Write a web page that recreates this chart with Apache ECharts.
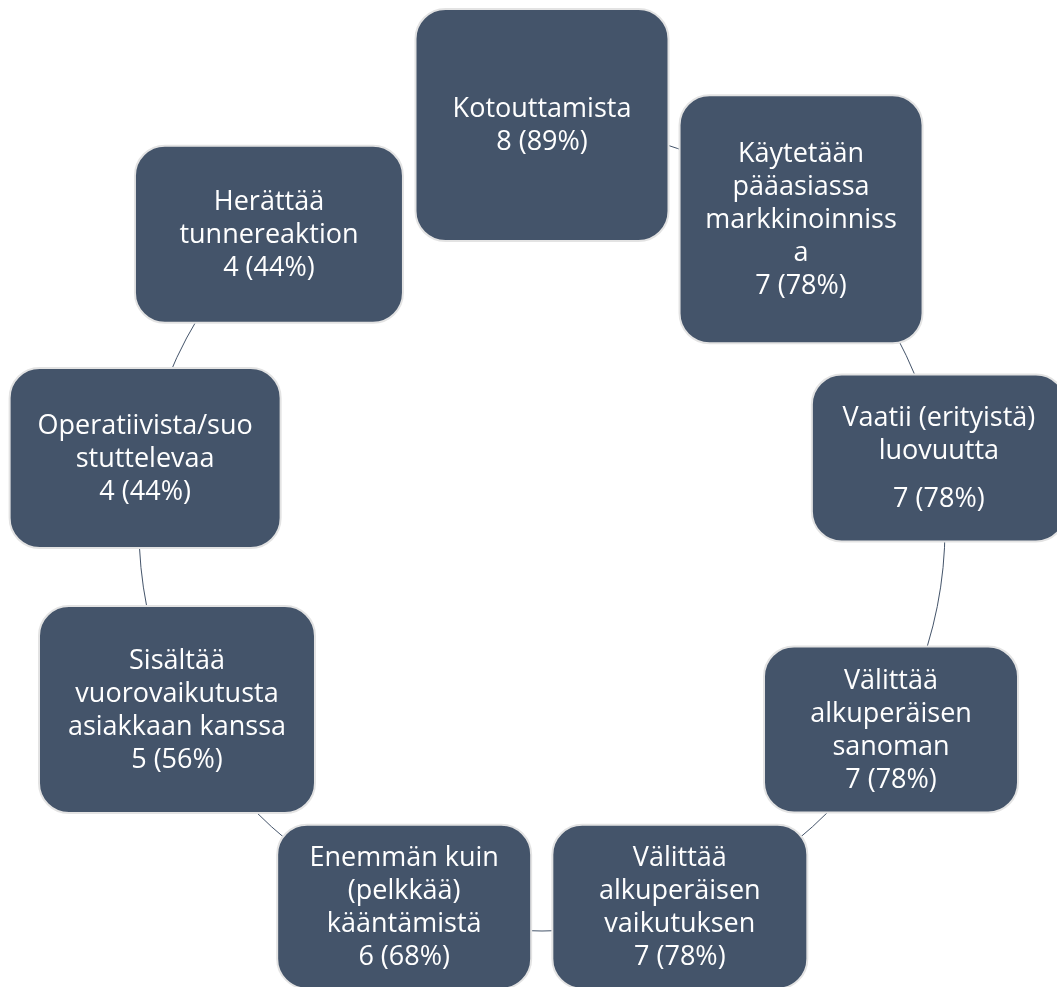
<!DOCTYPE html>
<html>
<head>
<meta charset="utf-8">
<script src="https://cdn.jsdelivr.net/npm/echarts@6/dist/echarts.min.js"></script>
<style>
  html, body { margin: 0; padding: 0; background: #fff; }
  #vis { width: 1057px; height: 987px; }
</style>
</head>
<body>
<div id="vis"></div>
<script>
// cycle items, clockwise from the top
const categories = [
  'Kotouttamista',
  'Käytetään pääasiassa markkinoinnissa',
  'Vaatii (erityistä) luovuutta',
  'Välittää alkuperäisen sanoman',
  'Välittää alkuperäisen vaikutuksen',
  'Enemmän kuin (pelkkää) kääntämistä',
  'Sisältää vuorovaikutusta asiakkaan kanssa',
  'Operatiivista/suostuttelevaa',
  'Herättää tunnereaktion'
];
// text as wrapped in the boxes
const labelLines = [
  ['Kotouttamista'],
  ['Käytetään', 'pääasiassa', 'markkinoinniss', 'a'],
  ['Vaatii (erityistä)', 'luovuutta', ''],
  ['Välittää', 'alkuperäisen', 'sanoman'],
  ['Välittää', 'alkuperäisen', 'vaikutuksen'],
  ['Enemmän kuin', '(pelkkää)', 'kääntämistä'],
  ['Sisältää', 'vuorovaikutusta', 'asiakkaan kanssa'],
  ['Operatiivista/suo', 'stuttelevaa'],
  ['Herättää', 'tunnereaktion']
];
const counts = [8, 7, 7, 7, 7, 6, 5, 4, 4];
const shares = [89, 78, 78, 78, 78, 68, 56, 44, 44];

// box look (width, height, small nudges off the ring)
const boxW = [253, 243, 254, 254, 255, 254, 276, 271, 268];
const boxH = [232, 248, 167, 166, 164, 164, 207, 180, 177];
const boxDx = [0, 0, 0, 0, 0, 0, -16, 0, -14];
const boxDy = [0, 0, 0, 0, 0, 0, -20, 0, 15];

const FILL = '#44546A';
const FONT = 'Open Sans';

function richText(i) {
  const parts = labelLines[i].map(l => l === '' ? '{g| }' : '{t|' + l + '}');
  parts.push('{t|' + counts[i] + ' (' + shares[i] + '%)}');
  return parts.join('\n');
}

const chart = echarts.init(document.getElementById('vis'), null, { renderer: 'canvas' });

const option = {
  animation: false,
  backgroundColor: '#fff',
  polar: { center: [542, 528], radius: 403 },
  angleAxis: {
    type: 'category',
    data: categories,
    startAngle: 90,
    clockwise: true,
    boundaryGap: false,
    axisLine: { show: true, lineStyle: { color: FILL, width: 1 } },
    axisTick: { show: false },
    axisLabel: { show: false },
    splitLine: { show: false }
  },
  radiusAxis: {
    type: 'value', min: 0, max: 1,
    axisLine: { show: false }, axisTick: { show: false },
    axisLabel: { show: false }, splitLine: { show: false }
  },
  series: [{
    type: 'custom',
    coordinateSystem: 'polar',
    data: categories.map((c, i) => [1, i]),
    encode: { radius: 0, angle: 1 },
    renderItem: function (params, api) {
      const i = params.dataIndex;
      const p = api.coord([api.value(0), api.value(1)]);
      const cx = p[0] + boxDx[i];
      const cy = p[1] + boxDy[i];
      return {
        type: 'group',
        children: [{
          type: 'rect',
          shape: { x: cx - boxW[i] / 2, y: cy - boxH[i] / 2, width: boxW[i], height: boxH[i], r: 30 },
          style: { fill: FILL, stroke: '#e3e3e3', lineWidth: 2 }
        }, {
          type: 'text',
          x: cx, y: cy + 1,
          style: {
            text: richText(i),
            align: 'center',
            verticalAlign: 'middle',
            rich: {
              t: { fontFamily: FONT, fontSize: 27, lineHeight: 33, fill: '#fff', align: 'center' },
              g: { fontSize: 1, lineHeight: 15 }
            }
          }
        }]
      };
    }
  }]
};

chart.setOption(option);
</script>
</body>
</html>
